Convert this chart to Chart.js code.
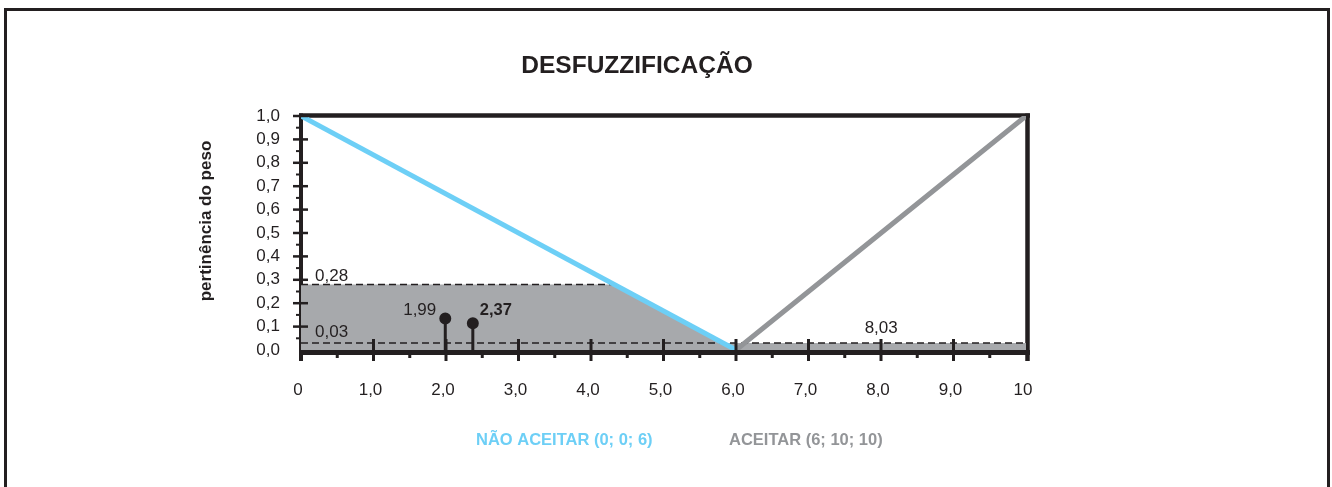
<!DOCTYPE html>
<html>
<head>
<meta charset="utf-8">
<script src="https://cdn.jsdelivr.net/npm/chart.js@4.4.0/dist/chart.umd.min.js"></script>
<style>
  html, body { margin: 0; padding: 0; background: #fff; overflow: hidden; }
  #frame {
    position: absolute; left: 4px; top: 8px; width: 1320px; height: 600px;
    border-left: 3px solid #231f20; border-top: 3px solid #231f20; border-right: 3px solid #231f20;
  }
  #graph { position: absolute; left: 0; top: 0; }
</style>
</head>
<body>
<div id="frame"></div>
<canvas id="graph" width="1332" height="487"></canvas>
<script>
// membership functions and defuzzification results
const xTickLabels = ['0', '1,0', '2,0', '3,0', '4,0', '5,0', '6,0', '7,0', '8,0', '9,0', '10'];
const yTickLabels = ['0,0', '0,1', '0,2', '0,3', '0,4', '0,5', '0,6', '0,7', '0,8', '0,9', '1,0'];

const seriesNames = ['NÃO ACEITAR (0; 0; 6)', 'ACEITAR (6; 10; 10)'];
const seriesColors = ['#6dcff6', '#939598'];

const rejectX = [0, 6];
const rejectY = [1, 0];
const acceptX = [6, 7, 8, 9, 10];
const acceptY = [0, 0.25, 0.5, 0.75, 1];

// clipped (aggregated) area
const areaX = [0, 4.32, 5.82, 10];
const areaY = [0.28, 0.28, 0.03, 0.03];

const cutLevels = [0.28, 0.03];
const cutEnds = [4.4, 10];

const centroidX = [1.99, 2.37];
const centroidY = [0.135, 0.114];
const acceptCentroid = 8.03;

const dark = '#231f20';
const fmt = v => v.toFixed(2).replace('.', ',');
const pts = (xs, ys) => xs.map((x, i) => ({ x: x, y: ys[i] }));

const datasets = [];
centroidX.forEach((cx, i) => {
  datasets.push({
    data: pts([cx, cx], [0, centroidY[i]]),
    showLine: true,
    borderColor: dark,
    borderWidth: 3,
    pointRadius: ctx => ctx.dataIndex === 1 ? 4.5 : 0,
    pointBackgroundColor: dark,
    pointBorderColor: dark,
    clip: false,
    order: 1
  });
});
datasets.push({
  data: pts(rejectX, rejectY),
  showLine: true, borderColor: seriesColors[0], borderWidth: 5,
  pointRadius: 0, order: 2
});
datasets.push({
  data: pts(acceptX, acceptY),
  showLine: true, borderColor: seriesColors[1], borderWidth: 5,
  pointRadius: 0, order: 2
});
cutLevels.forEach((lv, i) => {
  datasets.push({
    data: pts([0, cutEnds[i]], [lv, lv]),
    showLine: true, borderColor: dark, borderWidth: 1.6, borderDash: [7, 4],
    pointRadius: 0, order: 3
  });
});
datasets.push({
  data: pts(areaX, areaY),
  showLine: true, borderWidth: 0, borderColor: 'rgba(0,0,0,0)',
  backgroundColor: '#a7a9ac', fill: 'origin',
  pointRadius: 0, order: 4
});

const strokeLine = (ctx, x1, y1, x2, y2, w) => {
  ctx.lineWidth = w;
  ctx.beginPath(); ctx.moveTo(x1, y1); ctx.lineTo(x2, y2); ctx.stroke();
};

// frame of the plot (under the curves) and tick marks (over the fill)
const axisMarks = {
  id: 'axisMarks',
  beforeDatasetsDraw(chart) {
    const { ctx, chartArea: a } = chart;
    ctx.save();
    ctx.strokeStyle = dark;
    strokeLine(ctx, a.left - 2, a.top - 0.5, a.right + 4, a.top - 0.5, 4.5);
    strokeLine(ctx, a.right + 1.5, a.top - 2.5, a.right + 1.5, a.bottom + 11, 4.5);
    strokeLine(ctx, a.left, a.top - 2.5, a.left, a.bottom + 11, 4);
    strokeLine(ctx, a.left - 2, a.bottom + 2.5, a.right + 4, a.bottom + 2.5, 5);
    ctx.restore();
  },
  afterDatasetsDraw(chart) {
    const { ctx, chartArea: a, scales: { x, y } } = chart;
    ctx.save();
    ctx.strokeStyle = dark;
    for (let v = 1; v < 10; v++) {
      const px = x.getPixelForValue(v);
      strokeLine(ctx, px, a.bottom - 11, px, a.bottom + 11, 3);
    }
    for (let v = 0.5; v < 10; v += 1) {
      const px = x.getPixelForValue(v);
      strokeLine(ctx, px, a.bottom, px, a.bottom + 8, 3);
    }
    for (let k = 1; k <= 10; k++) {
      const py = y.getPixelForValue(k / 10);
      strokeLine(ctx, a.left - 8, py, a.left + 7, py, 2.5);
    }
    for (let k = 0; k < 10; k++) {
      const py = y.getPixelForValue(k / 10 + 0.05);
      strokeLine(ctx, a.left - 5, py, a.left, py, 2);
    }
    ctx.restore();
  }
};

// titles, value labels and legend text
const textLayer = {
  id: 'textLayer',
  afterDatasetsDraw(chart) {
    const { ctx, scales: { x, y } } = chart;
    const px = v => x.getPixelForValue(v);
    const py = v => y.getPixelForValue(v);
    const font = "'Liberation Sans', Arial, sans-serif";
    ctx.save();
    ctx.fillStyle = dark;
    ctx.textBaseline = 'alphabetic';

    ctx.font = 'bold 24.5px ' + font;
    ctx.textAlign = 'center';
    ctx.fillText('DESFUZZIFICAÇÃO', 637, 73);

    ctx.save();
    ctx.translate(211, 221);
    ctx.rotate(-Math.PI / 2);
    ctx.font = 'bold 17px ' + font;
    ctx.fillText('pertinência do peso', 0, 0);
    ctx.restore();

    ctx.font = '17px ' + font;
    ctx.textAlign = 'left';
    ctx.fillText(fmt(cutLevels[0]), px(0) + 14, py(cutLevels[0]) - 3);
    ctx.fillText(fmt(cutLevels[1]), px(0) + 14, py(cutLevels[1]) - 6);
    ctx.textAlign = 'right';
    ctx.fillText(fmt(centroidX[0]), px(centroidX[0]) - 9, py(centroidY[0]) - 3);
    ctx.textAlign = 'center';
    ctx.fillText(fmt(acceptCentroid), px(acceptCentroid) - 2, py(cutLevels[1]) - 10);
    ctx.font = 'bold 16.5px ' + font;
    ctx.textAlign = 'left';
    ctx.fillText(fmt(centroidX[1]), px(centroidX[1]) + 7, py(centroidY[1]) - 8);

    ctx.font = 'bold 16.5px ' + font;
    ctx.fillStyle = seriesColors[0];
    ctx.fillText(seriesNames[0], 476, 445);
    ctx.fillStyle = seriesColors[1];
    ctx.fillText(seriesNames[1], 729, 445);
    ctx.restore();
  }
};

new Chart(document.getElementById('graph'), {
  type: 'scatter',
  data: { datasets: datasets },
  plugins: [axisMarks, textLayer],
  options: {
    responsive: false,
    animation: false,
    devicePixelRatio: 1,
    layout: { padding: { left: 241, right: 306, top: 116, bottom: 77 } },
    plugins: { legend: { display: false }, title: { display: false }, tooltip: { enabled: false } },
    scales: {
      x: {
        type: 'linear', min: 0, max: 10,
        grid: { display: false, drawTicks: false },
        border: { display: false },
        afterFit: s => { s.height = 60; },
        ticks: {
          stepSize: 1, padding: 30, labelOffset: -3, maxRotation: 0, autoSkip: false,
          color: dark, font: { family: "'Liberation Sans', Arial", size: 17 },
          callback: (v, i) => xTickLabels[i]
        }
      },
      y: {
        type: 'linear', min: 0, max: 1,
        grid: { display: false, drawTicks: false },
        border: { display: false },
        afterFit: s => { s.width = 60; },
        ticks: {
          stepSize: 0.1, padding: 21, autoSkip: false,
          color: dark, font: { family: "'Liberation Sans', Arial", size: 17 },
          callback: (v, i) => yTickLabels[i]
        }
      }
    }
  }
});
</script>
</body>
</html>
